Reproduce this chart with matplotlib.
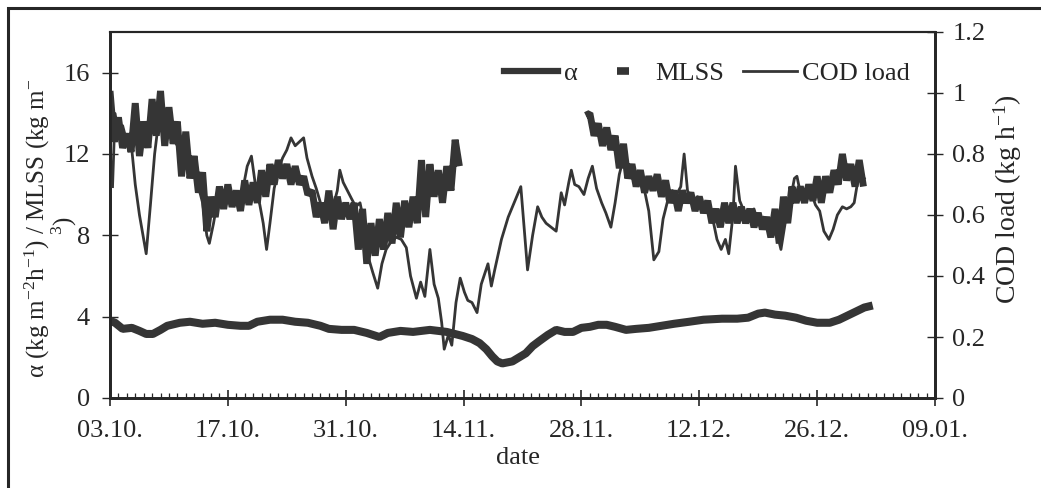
import numpy as np
import matplotlib
matplotlib.use("Agg")
import matplotlib.pyplot as plt
from matplotlib.lines import Line2D
from matplotlib.patches import Rectangle
from matplotlib.ticker import MultipleLocator

plt.rcParams.update({
    "font.family": ["Liberation Serif", "DejaVu Serif"],
    "mathtext.fontset": "custom",
    "mathtext.rm": "Liberation Serif",
    "mathtext.it": "Liberation Serif:italic",
    "mathtext.default": "regular",
})

INK = "#262626"
LINE = "#353535"

# x axis: days counted from 03.10.
date_labels = ["03.10.", "17.10.", "31.10.", "14.11.", "28.11.", "12.12.", "26.12.", "09.01."]

# alpha (kg m-2 h-1), half-day samples
alpha_first_day = 0.0
alpha_part1 = [
    15.1, 12.6, 13.8, 12.3, 13.0, 12.1, 14.5, 11.9, 13.6, 12.3,
    14.7, 12.9, 15.1, 12.4, 14.3, 12.5, 13.6, 10.9, 13.1, 10.8,
    11.9, 10.1, 11.1, 8.2, 9.9, 8.9, 10.4, 9.3, 10.5, 9.4,
    10.2, 9.2, 10.7, 9.5, 10.6, 9.6, 11.2, 9.9, 11.5, 10.5,
    11.7, 10.8, 11.5, 10.5, 11.4, 10.5, 10.9, 10.0, 10.2, 8.9,
    9.6, 8.6, 10.2, 8.3, 9.9, 8.8, 9.6, 8.8, 9.6, 7.3,
    9.3, 6.6, 8.6, 7.0, 8.8, 7.3, 9.1, 7.6, 9.6, 7.9,
    9.7, 8.4, 9.9, 8.6, 11.7, 8.9, 11.5, 9.9, 11.2, 9.6,
    11.4, 10.2, 12.7, 11.4,
]
alpha_second_start = 56.5
alpha_part2 = [
    13.9,
    14.0, 12.9, 13.5, 12.4, 13.3, 12.2, 12.9, 11.3, 12.5, 10.8,
    11.5, 10.4, 11.2, 10.1, 10.9, 10.2, 11.0, 9.9, 10.7, 9.6,
    10.2, 9.2, 10.2, 9.6, 10.1, 9.2, 9.9, 9.1, 9.7, 8.6,
    9.3, 8.4, 9.6, 8.6, 9.6, 8.6, 9.4, 8.6, 9.3, 8.4,
    9.1, 8.3, 8.9, 7.9, 9.3, 7.6, 9.9, 8.6, 10.4, 9.6,
    10.4, 9.6, 10.5, 9.7, 10.9, 9.6, 10.9, 10.1, 11.2, 10.5,
    12.0, 10.7, 11.5, 10.4, 11.7, 10.4,
]

# MLSS (kg m-3)
mlss_days = [
    0.0, 0.6, 1.5, 2.6, 3.5, 4.3, 5.1, 6.0, 6.8, 8.3,
    9.5, 11.0, 12.5, 14.0, 15.5, 16.5, 17.5, 19.0, 20.5, 22.0,
    23.5, 25.0, 26.0, 27.5, 29.0, 30.5, 32.0, 33.0, 34.5, 36.0,
    38.0, 40.0, 41.9, 43.0, 43.9, 44.7, 45.4, 46.0, 46.6, 47.8,
    48.6, 49.4, 50.2, 51.0, 52.0, 53.0, 54.0, 55.0, 56.0, 57.0,
    58.0, 59.0, 60.0, 61.3, 62.5, 64.0, 65.5, 67.0, 68.8, 70.5,
    72.7, 74.5, 75.8, 77.0, 77.8, 79.0, 80.2, 81.5, 82.7, 84.0,
    85.5, 86.6, 87.6, 88.6, 89.6, 90.6,
]
mlss = [
    3.8, 3.7, 3.4, 3.45, 3.3, 3.15, 3.15, 3.35, 3.55, 3.7,
    3.75, 3.65, 3.7, 3.6, 3.55, 3.55, 3.75, 3.85, 3.85, 3.75,
    3.7, 3.55, 3.4, 3.35, 3.35, 3.2, 3.0, 3.2, 3.3, 3.25,
    3.35, 3.25, 3.05, 2.9, 2.7, 2.4, 2.05, 1.8, 1.7, 1.8,
    2.0, 2.2, 2.55, 2.8, 3.1, 3.35, 3.25, 3.25, 3.45, 3.5,
    3.6, 3.6, 3.5, 3.35, 3.4, 3.45, 3.55, 3.65, 3.75, 3.85,
    3.9, 3.9, 3.95, 4.15, 4.2, 4.1, 4.05, 3.95, 3.8, 3.7,
    3.7, 3.85, 4.05, 4.25, 4.45, 4.55,
]

# COD load (kg h-1)
cod_days = [
    0.3, 0.6, 1.0, 1.5, 2.0, 2.5, 3.0, 3.5, 4.0, 4.3,
    4.8, 5.3, 5.8, 6.3, 7.0, 7.5, 8.0, 8.5, 9.0, 9.5,
    10.0, 10.5, 11.0, 11.5, 11.8, 12.3, 12.8, 13.3, 13.8, 14.3,
    14.8, 15.3, 15.8, 16.3, 16.8, 17.3, 17.8, 18.2, 18.6, 19.0,
    19.5, 20.0, 20.5, 21.0, 21.5, 22.0, 22.5, 23.0, 23.4, 24.0,
    24.5, 25.0, 25.5, 26.0, 26.5, 27.0, 27.3, 27.7, 28.2, 28.7,
    29.2, 29.7, 30.2, 30.7, 31.2, 31.8, 32.3, 32.8, 33.4, 34.0,
    34.6, 35.2, 35.7, 36.4, 36.9, 37.4, 38.0, 38.5, 39.0, 39.4,
    39.7, 40.2, 40.6, 41.1, 41.6, 42.1, 42.5, 43.0, 43.6, 44.1,
    44.9, 45.3, 45.7, 46.5, 47.3, 48.0, 48.8, 49.6, 50.2, 50.8,
    51.3, 51.8, 52.4, 53.0, 53.6, 54.0, 54.5, 54.8, 55.2, 55.7,
    56.3, 56.8, 57.3, 57.8, 58.4, 58.9, 59.5, 60.0, 60.5, 61.0,
    61.5, 62.0, 62.5, 63.0, 63.5, 64.0, 64.6, 65.2, 65.7, 66.3,
    66.8, 67.3, 67.8, 68.2, 68.6, 69.2, 69.8, 70.5, 71.0, 71.6,
    72.1, 72.6, 73.1, 73.5, 74.0, 74.3, 74.8, 75.3, 75.9, 76.5,
    77.0, 77.6, 78.2, 78.8, 79.3, 79.7, 80.2, 80.8, 81.3, 81.6,
    82.1, 82.7, 83.3, 83.8, 84.3, 84.8, 85.4, 85.9, 86.4, 87.0,
    87.5, 88.0, 88.4, 88.8, 89.2, 89.6,
]
cod_load = [
    0.693, 0.933, 0.867, 0.893, 0.840, 0.840, 0.700, 0.600, 0.520, 0.473,
    0.633, 0.800, 0.913, 0.947, 0.900, 0.853, 0.827, 0.787, 0.840, 0.760,
    0.733, 0.693, 0.640, 0.533, 0.507, 0.573, 0.653, 0.627, 0.673, 0.640,
    0.667, 0.640, 0.687, 0.760, 0.793, 0.693, 0.633, 0.573, 0.487, 0.573,
    0.687, 0.747, 0.787, 0.813, 0.853, 0.827, 0.840, 0.853, 0.787, 0.727,
    0.687, 0.640, 0.613, 0.600, 0.627, 0.680, 0.747, 0.707, 0.680, 0.653,
    0.627, 0.640, 0.573, 0.460, 0.413, 0.360, 0.440, 0.487, 0.513, 0.527,
    0.520, 0.493, 0.400, 0.327, 0.380, 0.333, 0.487, 0.373, 0.327, 0.247,
    0.160, 0.207, 0.173, 0.313, 0.393, 0.347, 0.320, 0.313, 0.280, 0.373,
    0.440, 0.367, 0.420, 0.520, 0.593, 0.640, 0.693, 0.420, 0.533, 0.627,
    0.593, 0.573, 0.560, 0.547, 0.673, 0.633, 0.707, 0.747, 0.700, 0.693,
    0.667, 0.720, 0.760, 0.687, 0.640, 0.607, 0.560, 0.640, 0.733, 0.787,
    0.753, 0.720, 0.727, 0.707, 0.680, 0.613, 0.453, 0.480, 0.587, 0.653,
    0.680, 0.667, 0.693, 0.800, 0.680, 0.640, 0.660, 0.613, 0.633, 0.587,
    0.520, 0.487, 0.520, 0.473, 0.600, 0.760, 0.647, 0.613, 0.593, 0.620,
    0.573, 0.593, 0.560, 0.540, 0.533, 0.487, 0.573, 0.647, 0.720, 0.727,
    0.660, 0.653, 0.673, 0.633, 0.613, 0.547, 0.520, 0.553, 0.600, 0.627,
    0.620, 0.627, 0.640, 0.707, 0.740, 0.720,
]

W, H = 1041, 488
fig = plt.figure(figsize=(W / 100, H / 100), dpi=100)
fig.patch.set_facecolor("white")
ax = fig.add_axes([110 / W, 1 - 398 / H, (935 - 110) / W, (398 - 32) / H])
ax2 = ax.twinx()

alpha_days1 = alpha_first_day + 0.5 * np.arange(len(alpha_part1))
alpha_days2 = alpha_second_start + 0.5 * np.arange(len(alpha_part2))

ax.plot(mlss_days, mlss, color=LINE, lw=5.8, solid_capstyle="butt",
        solid_joinstyle="bevel", zorder=3)
ax.plot(alpha_days1, alpha_part1, color=LINE, lw=5.0, solid_joinstyle="bevel",
        solid_capstyle="butt", zorder=3)
ax.plot(alpha_days2, alpha_part2, color=LINE, lw=5.0, solid_joinstyle="bevel",
        solid_capstyle="butt", zorder=3)
ax2.plot(cod_days, cod_load, color=LINE, lw=2.0, zorder=3)

FS = 19
ax.set_xlim(0, 98)
ax.set_ylim(0, 18)
ax2.set_ylim(0, 1.2)
ax.xaxis.set_minor_locator(MultipleLocator(1))
ax.set_xticks(np.arange(0, 99, 14))
ax.set_xticklabels(date_labels)
ax.yaxis.set_major_locator(MultipleLocator(4))
ax2.yaxis.set_major_locator(MultipleLocator(0.2))
ax2.yaxis.set_major_formatter(plt.FuncFormatter(lambda v, p: f"{v:g}"))

ax.tick_params(axis="x", which="major", direction="inout", length=11, width=1.2,
               labelsize=FS, pad=10, colors=INK)
ax.tick_params(axis="x", which="minor", direction="in", length=3.5, width=0.9, colors=INK)
ax.tick_params(axis="y", which="major", direction="inout", length=11, width=1.0,
               labelsize=FS, pad=9, colors=INK)
ax2.tick_params(axis="y", which="major", direction="inout", length=11, width=1.0,
                labelsize=FS, pad=7, colors=INK)

for a in (ax, ax2):
    for side in ("left", "right", "bottom"):
        a.spines[side].set_linewidth(2.0)
        a.spines[side].set_color(INK)
    a.spines["top"].set_linewidth(1.5)
    a.spines["top"].set_color(INK)

# outer figure frame
fig.add_artist(Rectangle((8 / W, -0.5), 2.0, 0.5 + 1 - 8 / H, transform=fig.transFigure,
                         fill=False, lw=2.2, ec=INK, clip_on=False))

# axis titles (left one wraps onto a second line)
fig.text(37 / W, 1 - 228 / H, "α (kg m$^{-2}$h$^{-1}$) / MLSS (kg m$^{-}$",
         rotation=90, ha="center", va="center", fontsize=18, color=INK)
fig.text(64 / W, 1 - 226 / H, "${}^{3}$)",
         rotation=90, ha="center", va="center", fontsize=18, color=INK)
fig.text(1008 / W, 1 - 199 / H, "COD load (kg h$^{-1}$)", rotation=90,
         ha="center", va="center", fontsize=20, color=INK)
fig.text(518 / W, 1 - 458 / H, "date", ha="center", va="center", fontsize=FS, color=INK)

handles = [
    Line2D([], [], color=LINE, lw=4.5),
    Line2D([], [], ls="none", marker="_", ms=8.5, mew=5.5, color=LINE),
    Line2D([], [], color=LINE, lw=2.0),
]
ax.legend(handles, ["α", "MLSS", "COD load"], ncol=3, frameon=False, loc="center",
          bbox_to_anchor=(707 / W, 1 - 73 / H), bbox_transform=fig.transFigure,
          fontsize=FS, handlelength=2.05, handletextpad=0.2, columnspacing=0.7,
          labelcolor=INK)

fig.savefig("out.png", dpi=100, facecolor="white")
